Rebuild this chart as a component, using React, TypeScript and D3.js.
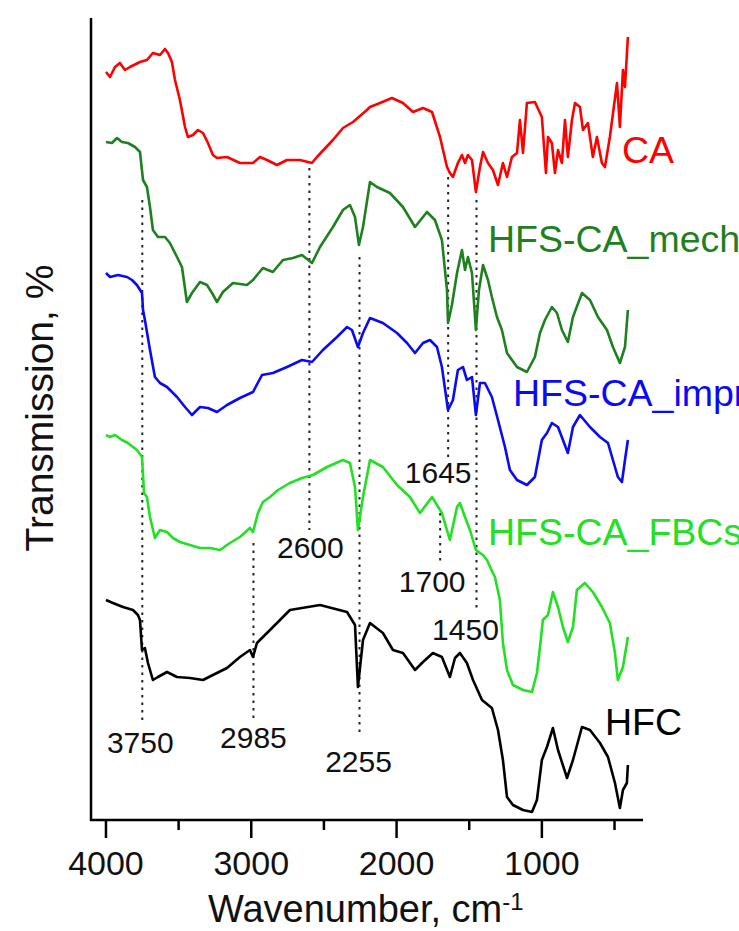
import * as d3 from 'd3';
import React from 'react';

// Chart size
const width = 739;
const height = 931;

// Series names (top to bottom)
const seriesNames = ["CA", "HFS-CA_mech", "HFS-CA_impr", "HFS-CA_FBCs", "HFC"];
const seriesColors = ["#ff0000", "#1f801f", "#0a0af5", "#22e022", "#000000"];

// Spectra: [wavenumber cm-1, transmission (offset, a.u.)]
const CA: [number, number][] = [
  [4000,149.6],[3972,148.6],[3938,150.6],[3904,151.4],[3869,150],[3835,150.6],[3766,151.6],[3718,152],
  [3677,153.4],[3628,153],[3594,154.2],[3573,153.4],[3546,151.6],[3525,148],[3491,144],[3456,138.6],
  [3436,136.6],[3401,137],[3367,138],[3332,137.4],[3298,135.4],[3264,133],[3236,132.4],[3167,132.6],
  [3078,131.4],[2988,131.4],[2940,132.6],[2892,132],[2823,131],[2754,132],[2665,132],[2582,131.4],
  [2548,132.6],[2438,136],[2369,138.4],[2300,139.6],[2204,142],[2183,142.6],[2114,143.4],[2032,144.4],
  [1956,143.4],[1887,141.6],[1818,142.4],[1756,141.6],[1701,136.6],[1653,130.6],[1633,129.4],[1612,128.6],
  [1578,131.4],[1550,133],[1529,131.4],[1509,133],[1481,132],[1454,125.6],[1426,130.6],[1405,133.6],
  [1371,131.4],[1337,130],[1302,127],[1268,131.4],[1240,128.6],[1206,132.6],[1171,133.4],[1151,140],
  [1130,133.4],[1103,143.4],[1048,143.6],[1000,140.6],[972,129.4],[958,136.6],[931,135.4],[910,129.4],
  [889,134],[862,131.4],[841,140],[821,132.6],[793,140],[772,143.4],[738,142.6],[717,138],[683,139.4],
  [649,132.6],[621,136.6],[587,131.4],[566,130.6],[532,136.6],[483,147.4],[463,138.6],[442,150],
  [428,146.6],[408,156.6]
];

const HFS_CA_mech: [number, number][] = [
  [4000,135.6],[3959,135.4],[3924,136.4],[3890,135.6],[3849,135.4],[3800,134.6],[3766,133.6],[3745,128],
  [3718,126.6],[3697,122.6],[3677,118],[3642,116.6],[3594,116.6],[3560,115.4],[3511,112.6],[3477,110.6],
  [3443,103.6],[3408,105.4],[3353,107.6],[3305,107],[3270,105.4],[3236,103.6],[3195,105.6],[3126,107.4],
  [3030,107],[2988,108],[2920,110.4],[2851,109.6],[2782,112],[2713,112.4],[2651,113],[2582,111.4],
  [2527,114.6],[2438,118.6],[2369,122],[2321,123],[2286,120.6],[2259,115],[2231,118.6],[2183,127.6],
  [2135,126.6],[2046,125.4],[1956,122.6],[1873,118.6],[1791,121.6],[1736,120],[1688,116],[1653,106],
  [1646,99.4],[1619,103],[1584,109.4],[1550,114],[1529,110],[1509,112.6],[1481,109.4],[1454,98],
  [1433,106],[1405,111],[1371,108],[1344,104.6],[1309,100.6],[1275,98],[1240,93.4],[1171,90.6],
  [1103,89.6],[1048,92.6],[1013,97.4],[979,100],[931,102.6],[896,101.4],[862,98],[821,95.6],[786,100.6],
  [724,105.4],[669,104],[614,100.6],[552,98],[511,94.6],[463,91.4],[428,94.6],[408,102]
];

const HFS_CA_impr: [number, number][] = [
  [4000,109.4],[3972,108.6],[3917,109],[3855,108.6],[3821,108],[3787,107],[3752,105.4],[3745,102],
  [3732,100],[3697,94],[3663,88.6],[3628,87.4],[3580,86.6],[3511,84.6],[3456,82.6],[3408,81],[3353,82.6],
  [3298,82.4],[3236,81.6],[3167,83],[3078,84.4],[2988,85.6],[2926,89],[2851,89.4],[2754,90.6],[2651,92],
  [2582,91.6],[2507,94],[2410,96.6],[2341,98.6],[2307,98],[2266,94.6],[2231,97.4],[2183,100.4],
  [2094,99.4],[1997,97.4],[1928,95.4],[1873,93.4],[1818,95.4],[1770,96],[1722,94.6],[1688,90.6],
  [1646,82],[1612,84],[1578,90],[1543,90.6],[1516,88],[1481,88.6],[1454,81],[1426,87.4],[1392,87.4],
  [1344,84.6],[1302,80],[1254,74.6],[1220,70],[1171,68],[1103,67],[1048,68.6],[1000,76],[965,77.4],
  [931,79.4],[889,78.6],[855,76],[821,73.4],[786,78.6],[738,81],[669,78.6],[600,76.6],[545,75.4],
  [511,72],[477,68.6],[449,67.6],[428,72],[408,76]
];

const HFS_CA_FBCs: [number, number][] = [
  [4000,77],[3972,76.6],[3938,77],[3890,76],[3849,75.4],[3787,74],[3752,72.6],[3738,65.4],[3718,64.6],
  [3697,60.6],[3663,56.4],[3628,58],[3580,57.6],[3539,56.4],[3491,55.6],[3422,55],[3353,54.4],
  [3284,54.4],[3215,54],[3147,55.4],[3078,56.6],[3009,58.4],[2988,57.6],[2954,61.4],[2920,63.6],
  [2871,64.6],[2816,66],[2734,67.4],[2651,68.4],[2575,69],[2479,70.6],[2369,72],[2321,71.4],[2286,66.6],
  [2266,58],[2231,64.6],[2183,72],[2094,70.6],[1997,67],[1908,64.6],[1839,61.4],[1756,64.6],[1688,61.4],
  [1633,56],[1584,62.6],[1564,63.4],[1529,60.6],[1495,58],[1454,54],[1405,53],[1378,52],[1337,49.4],
  [1323,48.6],[1289,44],[1268,35.4],[1240,30],[1199,27],[1130,26],[1068,25.6],[1034,29.4],[1013,34.6],
  [993,40],[958,41],[924,45.6],[889,42.6],[855,38.6],[821,35.6],[786,38.6],[759,46],[704,47.4],
  [649,45.6],[587,42.6],[532,39.4],[497,33.4],[477,28],[442,30.6],[408,36.6]
];

const HFC: [number, number][] = [
  [4000,44],[3952,43.4],[3883,42.6],[3814,42],[3780,41],[3766,40],[3752,34],[3732,34.4],[3711,31.4],
  [3677,28],[3642,28.6],[3580,29.6],[3511,28.6],[3422,28.4],[3332,28],[3264,29],[3167,30.4],[3078,32.6],
  [3009,34],[2988,32.6],[2961,35.4],[2892,37.4],[2823,39.4],[2734,42],[2527,43],[2341,41.6],[2286,39],
  [2266,26.6],[2231,36],[2183,39.4],[2094,37.4],[2025,34],[1956,33.4],[1873,30],[1818,31.6],[1750,33.4],
  [1688,32.6],[1633,28.6],[1598,32.4],[1564,33.4],[1516,31.4],[1474,28],[1412,24],[1344,22.4],[1302,18],
  [1268,12],[1240,4.6],[1199,3],[1130,2],[1068,1.6],[1034,4],[1000,12],[965,14.6],[924,18.4],[889,14],
  [827,8.4],[786,12],[724,18.6],[669,18],[600,15.4],[545,12.6],[497,7.4],[463,2.4],[442,6],[415,7.4],
  [408,11]
];

const seriesData = [CA, HFS_CA_mech, HFS_CA_impr, HFS_CA_FBCs, HFC];

// Marked bands
const bandLabels = ["3750", "2985", "2600", "2255", "1700", "1645", "1450"];
const bandWavenumbers = [3750, 2985, 2600, 2255, 1700, 1645, 1450];

// Axis ticks
const majorTicks = [4000, 3000, 2000, 1000];
const minorTicks = [3500, 2500, 1500, 500];

// Layout (not data)
const plot = { left: 91, right: 643, top: 18, bottom: 820 };
// dotted line extents [from, to] in transmission units, label dx (px) and baseline (units)
const bandLayout = [
  { from: 124, to: 19.6, dx: -2, ly: 13.4 },
  { from: 55.4, to: 20.4, dx: 0, ly: 14.4 },
  { from: 130.4, to: 58, dx: 1, ly: 52.4 },
  { from: 112.6, to: 16.6, dx: -1, ly: 9.6 },
  { from: 61.4, to: 51.4, dx: -8, ly: 45.6 },
  { from: 128.6, to: 72.6, dx: -10, ly: 67.4 },
  { from: 124, to: 42, dx: -11, ly: 36 },
];
// series label anchor (start) in data coordinates
const labelLayout: [number, number][] = [[449, 131.4], [1371, 113.6], [1199, 82.8], [1371, 55], [566, 17]];

const font = "'Liberation Sans', Arial, Helvetica, sans-serif";

export default function App() {
  const x = d3.scaleLinear().domain([4103, 304]).range([plot.left, plot.right]);
  const y = d3.scaleLinear().domain([0, 160.4]).range([plot.bottom, plot.top]);

  const line = d3.line<[number, number]>()
    .x(d => x(d[0]))
    .y(d => y(d[1]));

  return (
    <div style={{ position: 'absolute', left: 0, top: 0 }}>
      <svg width={width} height={height} style={{ display: 'block', background: '#fff' }} fontFamily={font}>
        {/* dotted band markers */}
        {bandWavenumbers.map((w, i) => (
          <line key={'b' + i} x1={x(w)} x2={x(w)} y1={y(bandLayout[i].from)} y2={y(bandLayout[i].to)}
            stroke="#222" strokeWidth={2} strokeDasharray="2.5,5" />
        ))}

        {/* spectra */}
        {seriesData.map((s, i) => (
          <path key={'s' + i} d={line(s) || ''} fill="none" stroke={seriesColors[i]} strokeWidth={2.6}
            strokeLinejoin="round" />
        ))}

        {/* band labels */}
        {bandWavenumbers.map((w, i) => (
          <text key={'bl' + i} x={x(w) + bandLayout[i].dx} y={y(bandLayout[i].ly)} fontSize={30}
            textAnchor="middle" fill="#111">{bandLabels[i]}</text>
        ))}

        {/* series labels */}
        {seriesNames.map((n, i) => (
          <text key={'sl' + i} x={x(labelLayout[i][0])} y={y(labelLayout[i][1])} fontSize={37.5}
            fill={seriesColors[i]}>{n}</text>
        ))}

        {/* axes */}
        <line x1={plot.left} x2={plot.left} y1={plot.top} y2={plot.bottom + 1} stroke="#000" strokeWidth={2.5} />
        <line x1={plot.left - 1} x2={plot.right} y1={plot.bottom} y2={plot.bottom} stroke="#000" strokeWidth={2.5} />
        {majorTicks.map(t => (
          <g key={'t' + t}>
            <line x1={x(t)} x2={x(t)} y1={plot.bottom} y2={plot.bottom + 18} stroke="#000" strokeWidth={2.5} />
            <text x={x(t)} y={875} fontSize={34} textAnchor="middle" fill="#111">{t}</text>
          </g>
        ))}
        {minorTicks.map(t => (
          <line key={'m' + t} x1={x(t)} x2={x(t)} y1={plot.bottom} y2={plot.bottom + 10} stroke="#000" strokeWidth={2.5} />
        ))}

        {/* axis titles */}
        <text x={208} y={922} fontSize={38} fill="#111">
          Wavenumber, cm<tspan dy={-12} fontSize={24}>-1</tspan>
        </text>
        <text transform={`translate(53, 408) rotate(-90)`} fontSize={39} textAnchor="middle" fill="#111">
          Transmission, %
        </text>
      </svg>
    </div>
  );
}
